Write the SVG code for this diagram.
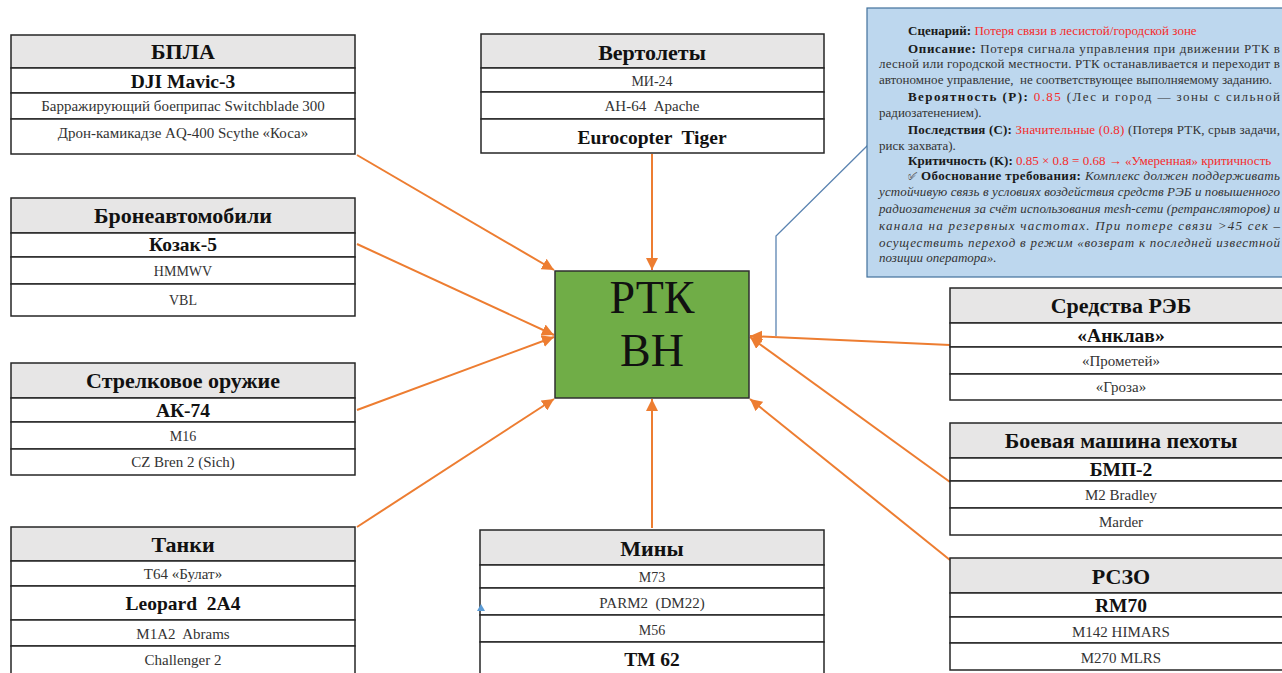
<svg xmlns="http://www.w3.org/2000/svg" width="1282" height="673" viewBox="0 0 1282 673">
<style>
text{font-family:"Liberation Serif","DejaVu Serif",serif;}
.hd{fill:#E7E6E6;stroke:#262626;stroke-width:1.5}
.rw{fill:#FFFFFF;stroke:#262626;stroke-width:1.5}
.ht{font-size:22px;font-weight:bold;fill:#111;text-anchor:middle}
.bt{font-size:19.5px;font-weight:bold;fill:#111;text-anchor:middle}
.rt{font-size:15px;fill:#333;text-anchor:middle}
.rs{font-size:14px;fill:#333;text-anchor:middle}
.conn{stroke:#ED7D31;stroke-width:2;fill:none}
.ct{font-size:13px;fill:#333}
.b{font-weight:bold;fill:#1a1a1a}
.r{fill:#F52A2A}
.i{font-style:italic;fill:#333}
</style>
<defs>
<marker id="ah" markerUnits="userSpaceOnUse" markerWidth="14" markerHeight="12" refX="12" refY="6" orient="auto">
<path d="M0,0 L12,6 L0,12 Z" fill="#ED7D31"/>
</marker>
</defs>

<g id="connectors">
<line class="conn" x1="357" y1="155" x2="554" y2="270" marker-end="url(#ah)"/>
<line class="conn" x1="357" y1="244" x2="554" y2="335" marker-end="url(#ah)"/>
<line class="conn" x1="357" y1="410" x2="554" y2="337" marker-end="url(#ah)"/>
<line class="conn" x1="357" y1="527" x2="554" y2="399" marker-end="url(#ah)"/>
<line class="conn" x1="652" y1="154" x2="652" y2="270" marker-end="url(#ah)"/>
<line class="conn" x1="652" y1="528" x2="652" y2="399" marker-end="url(#ah)"/>
<line class="conn" x1="950" y1="345" x2="750" y2="336" marker-end="url(#ah)"/>
<line class="conn" x1="950" y1="482" x2="750" y2="337" marker-end="url(#ah)"/>
<line class="conn" x1="950" y1="560" x2="750" y2="399" marker-end="url(#ah)"/>
</g>

<g id="center">
<rect x="555" y="271" width="194" height="127" fill="#70AD47" stroke="#2F2F2F" stroke-width="1.5"/>
<text x="652" y="313" font-size="46" text-anchor="middle" fill="#111">РТК</text>
<text x="652" y="366" font-size="46" text-anchor="middle" fill="#111">ВН</text>
</g>

<g id="bpla">
<rect class="hd" x="11" y="35" width="344" height="33"/>
<rect class="rw" x="11" y="68" width="344" height="25"/>
<rect class="rw" x="11" y="93" width="344" height="26"/>
<rect class="rw" x="11" y="119" width="344" height="35"/>
<text class="ht" x="183" y="59">БПЛА</text>
<text class="bt" x="183" y="88">DJI Mavic-3</text>
<text class="rt" x="183" y="111">Барражирующий боеприпас Switchblade 300</text>
<text class="rt" x="183" y="138">Дрон-камикадзе AQ-400 Scythe «Коса»</text>
</g>

<g id="bronea">
<rect class="hd" x="11" y="198" width="344" height="35"/>
<rect class="rw" x="11" y="233" width="344" height="24"/>
<rect class="rw" x="11" y="257" width="344" height="27"/>
<rect class="rw" x="11" y="284" width="344" height="32"/>
<text class="ht" x="183" y="223">Бронеавтомобили</text>
<text class="bt" x="183" y="251">Козак-5</text>
<text class="rs" x="183" y="276">HMMWV</text>
<text class="rs" x="183" y="305">VBL</text>
</g>

<g id="strelk">
<rect class="hd" x="11" y="363" width="344" height="35"/>
<rect class="rw" x="11" y="398" width="344" height="24"/>
<rect class="rw" x="11" y="422" width="344" height="27"/>
<rect class="rw" x="11" y="449" width="344" height="26"/>
<text class="ht" x="183" y="388">Стрелковое оружие</text>
<text class="bt" x="183" y="417">АК-74</text>
<text class="rs" x="183" y="441">M16</text>
<text class="rt" x="183" y="467">CZ Bren 2 (Sich)</text>
</g>

<g id="tanki">
<rect class="hd" x="11" y="527" width="344" height="34"/>
<rect class="rw" x="11" y="561" width="344" height="25"/>
<rect class="rw" x="11" y="586" width="344" height="34"/>
<rect class="rw" x="11" y="620" width="344" height="26"/>
<rect class="rw" x="11" y="646" width="344" height="34"/>
<text class="ht" x="183" y="552">Танки</text>
<text class="rt" x="183" y="579">T64 «Булат»</text>
<text class="bt" x="183" y="610" xml:space="preserve">Leopard  2A4</text>
<text class="rt" x="183" y="639" xml:space="preserve">M1A2  Abrams</text>
<text class="rt" x="183" y="665">Challenger 2</text>
</g>

<g id="vertolety">
<rect class="hd" x="481" y="34" width="343" height="34"/>
<rect class="rw" x="481" y="68" width="343" height="24"/>
<rect class="rw" x="481" y="92" width="343" height="27"/>
<rect class="rw" x="481" y="119" width="343" height="34"/>
<text class="ht" x="652" y="60">Вертолеты</text>
<text class="rs" x="652" y="86">МИ-24</text>
<text class="rt" x="652" y="111" xml:space="preserve">АН-64  Apache</text>
<text class="bt" x="652" y="144" xml:space="preserve">Eurocopter  Tiger</text>
</g>

<g id="miny">
<rect class="hd" x="480" y="530" width="344" height="35"/>
<rect class="rw" x="480" y="565" width="344" height="23"/>
<rect class="rw" x="480" y="588" width="344" height="27"/>
<rect class="rw" x="480" y="615" width="344" height="27"/>
<rect class="rw" x="480" y="642" width="344" height="38"/>
<text class="ht" x="652" y="556">Мины</text>
<text class="rs" x="652" y="582">M73</text>
<text class="rt" x="652" y="608" xml:space="preserve">PARM2  (DM22)</text>
<text class="rs" x="652" y="635">M56</text>
<text class="bt" x="652" y="666">ТМ 62</text>
</g>

<g id="stray-arrow">
<path d="M481,604 L477,611 L485,611 Z" fill="#5B9BD5"/>
</g>

<g id="reb">
<rect class="hd" x="950" y="288" width="343" height="35"/>
<rect class="rw" x="950" y="323" width="343" height="24"/>
<rect class="rw" x="950" y="347" width="343" height="27"/>
<rect class="rw" x="950" y="374" width="343" height="26"/>
<text class="ht" x="1121" y="313">Средства РЭБ</text>
<text class="bt" x="1121" y="342">«Анклав»</text>
<text class="rt" x="1121" y="366">«Прометей»</text>
<text class="rt" x="1121" y="392">«Гроза»</text>
</g>

<g id="bmp">
<rect class="hd" x="950" y="423" width="343" height="35"/>
<rect class="rw" x="950" y="458" width="343" height="23"/>
<rect class="rw" x="950" y="481" width="343" height="27"/>
<rect class="rw" x="950" y="508" width="343" height="27"/>
<text class="ht" x="1121" y="448">Боевая машина пехоты</text>
<text class="bt" x="1121" y="476">БМП-2</text>
<text class="rt" x="1121" y="500">M2 Bradley</text>
<text class="rt" x="1121" y="527">Marder</text>
</g>

<g id="rszo">
<rect class="hd" x="950" y="558" width="343" height="35"/>
<rect class="rw" x="950" y="593" width="343" height="24"/>
<rect class="rw" x="950" y="617" width="343" height="26"/>
<rect class="rw" x="950" y="643" width="343" height="27"/>
<text class="ht" x="1121" y="584">РСЗО</text>
<text class="bt" x="1121" y="612">RM70</text>
<text class="rt" x="1121" y="637">M142 HIMARS</text>
<text class="rt" x="1121" y="663">M270 MLRS</text>
</g>

<g id="callout">
<polyline points="868,145 776,236 776,336" fill="none" stroke="#5B84B1" stroke-width="1.3"/>
<rect x="867" y="8" width="430" height="269" fill="#BDD7EE" stroke="#41719C" stroke-width="1.2"/>
<text class="ct" x="908" y="35"><tspan class="b">Сценарий:</tspan> <tspan class="r">Потеря связи в лесистой/городской зоне</tspan></text>
<text class="ct" x="908" y="52.5" textLength="372" lengthAdjust="spacing"><tspan class="b">Описание:</tspan> Потеря сигнала управления при движении РТК в</text>
<text class="ct" x="879" y="67.5" textLength="401" lengthAdjust="spacing">лесной или городской местности. РТК останавливается и переходит в</text>
<text class="ct" x="879" y="84" xml:space="preserve">автономное управление,  не соответствующее выполняемому заданию.</text>
<text class="ct" x="908" y="101" textLength="372" lengthAdjust="spacing"><tspan class="b">Вероятность (P):</tspan> <tspan class="r">0.85</tspan> (Лес и город — зоны с сильной</text>
<text class="ct" x="879" y="117">радиозатенением).</text>
<text class="ct" x="908" y="133.5" textLength="372" lengthAdjust="spacing"><tspan class="b">Последствия (C):</tspan> <tspan class="r">Значительные (0.8)</tspan> (Потеря РТК, срыв задачи,</text>
<text class="ct" x="879" y="149.5">риск захвата).</text>
<text class="ct" x="908" y="164.5"><tspan class="b">Критичность (K):</tspan> <tspan class="r">0.85 × 0.8 = 0.68 → «Умеренная» критичность</tspan></text>
<text class="ct" x="908" y="180" textLength="372" lengthAdjust="spacing"><tspan font-family="DejaVu Sans" font-size="11" fill="#555">✅︎</tspan> <tspan class="b">Обоснование требования:</tspan> <tspan class="i">Комплекс должен поддерживать</tspan></text>
<text class="ct i" x="879" y="195.5" textLength="401" lengthAdjust="spacing">устойчивую связь в условиях воздействия средств РЭБ и повышенного</text>
<text class="ct i" x="879" y="213" textLength="401" lengthAdjust="spacing">радиозатенения за счёт использования mesh-сети (ретрансляторов) и</text>
<text class="ct i" x="879" y="230" textLength="401" lengthAdjust="spacing">канала на резервных частотах. При потере связи &gt;45 сек –</text>
<text class="ct i" x="879" y="246.5" textLength="401" lengthAdjust="spacing">осуществить переход в режим «возврат к последней известной</text>
<text class="ct i" x="879" y="262">позиции оператора».</text>
</g>
</svg>
